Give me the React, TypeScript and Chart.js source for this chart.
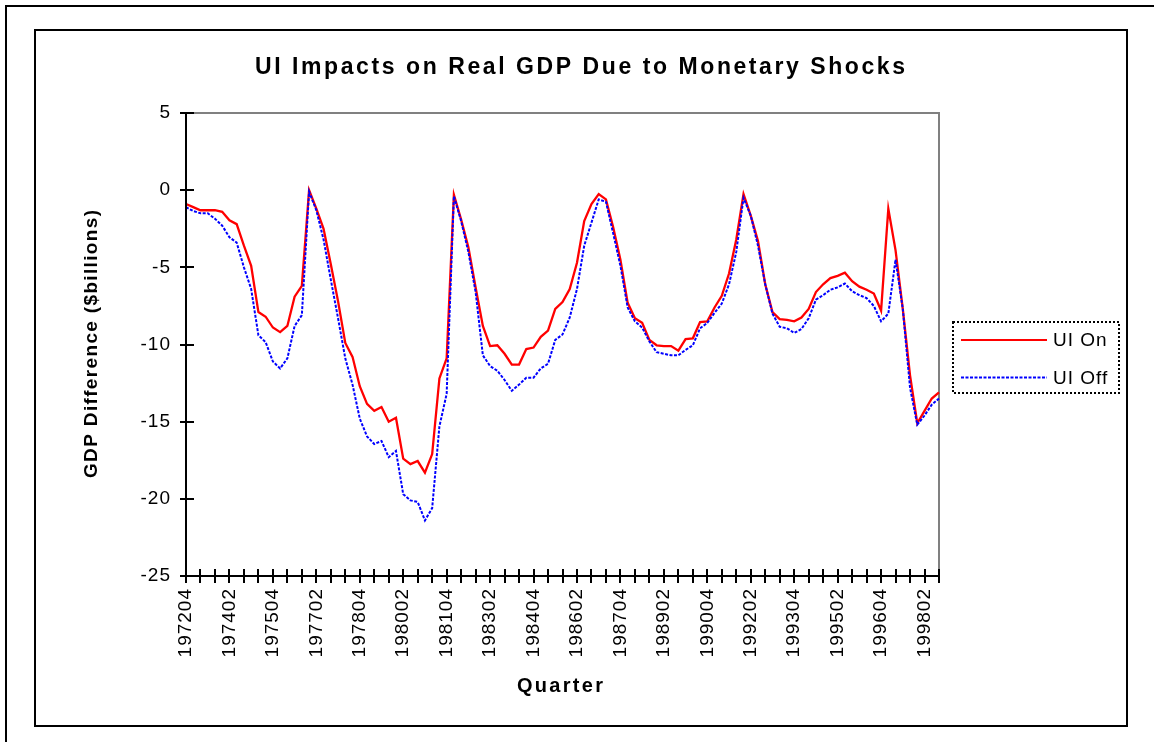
import React, { useEffect, useRef } from "react";
import { Chart, registerables } from "chart.js";

Chart.register(...registerables);

const W = 1154;
const H = 742;
const FONT = '"Liberation Sans", Arial, Helvetica, sans-serif';

const TITLE = "UI Impacts on Real GDP Due to Monetary Shocks";
const X_TITLE = "Quarter";
const Y_TITLE = "GDP Difference ($billions)";

// category range: 1972 Q4 .. 1998 Q4
const FIRST_YEAR = 1972;
const FIRST_QUARTER = 4;
const LAST_YEAR = 1998;
const LAST_QUARTER = 4;
const LABEL_EVERY = 6;
const TICK_EVERY = 2;

function buildQuarters(): string[] {
  const out: string[] = [];
  let y = FIRST_YEAR;
  let q = FIRST_QUARTER;
  while (y < LAST_YEAR || (y === LAST_YEAR && q <= LAST_QUARTER)) {
    out.push(`${y}0${q}`);
    q++;
    if (q > 4) {
      q = 1;
      y++;
    }
  }
  return out;
}
const quarters = buildQuarters();

const seriesNames = ["UI On", "UI Off"];

const uiOn = [
  -0.9, -1.1, -1.3, -1.3, -1.3, -1.4, -1.95, -2.2, -3.6, -4.9,
  -7.9, -8.2, -8.9, -9.2, -8.8, -6.9, -6.2, 0.0, -1.2, -2.5,
  -4.8, -7.2, -9.9, -10.8, -12.7, -13.85, -14.3, -14.05, -15.0, -14.75,
  -17.4, -17.75, -17.55, -18.3, -17.1, -12.2, -10.9, -0.3, -1.9, -3.7,
  -6.3, -8.8, -10.1, -10.05, -10.6, -11.3, -11.3, -10.3, -10.2, -9.5,
  -9.1, -7.7, -7.25, -6.4, -4.7, -2.0, -0.9, -0.25, -0.6, -2.4,
  -4.5, -7.3, -8.3, -8.6, -9.7, -10.05, -10.1, -10.1, -10.4, -9.65,
  -9.6, -8.55, -8.5, -7.6, -6.85, -5.4, -3.2, -0.25, -1.65, -3.3,
  -6.1, -7.9, -8.35, -8.4, -8.5, -8.25, -7.7, -6.6, -6.1, -5.7,
  -5.55, -5.35, -5.9, -6.25, -6.45, -6.7, -7.8, -1.2, -3.9, -7.7,
  -12.0, -15.1, -14.3, -13.5, -13.1,
];

const uiOff = [
  -1.1, -1.35, -1.5, -1.5, -1.85, -2.3, -3.05, -3.4, -5.0, -6.4,
  -9.4, -9.85, -11.1, -11.55, -10.9, -8.8, -8.1, -0.1, -1.3, -3.2,
  -5.8, -8.3, -10.9, -12.6, -14.8, -15.95, -16.45, -16.25, -17.3, -16.9,
  -19.7, -20.1, -20.2, -21.4, -20.6, -15.3, -13.2, -0.4, -2.0, -4.0,
  -6.6, -10.7, -11.4, -11.7, -12.3, -13.0, -12.6, -12.15, -12.15, -11.55,
  -11.25, -9.7, -9.35, -8.25, -6.4, -3.6, -2.1, -0.6, -0.75, -2.8,
  -4.9, -7.6, -8.5, -8.9, -9.8, -10.5, -10.6, -10.7, -10.7, -10.35,
  -10.05, -8.95, -8.6, -7.95, -7.35, -6.1, -4.0, -0.5, -1.65, -3.6,
  -6.1, -8.0, -8.85, -8.95, -9.25, -9.0, -8.3, -7.1, -6.8, -6.45,
  -6.3, -6.05, -6.55, -6.8, -7.0, -7.5, -8.5, -8.0, -4.5, -7.7,
  -12.8, -15.2, -14.6, -13.9, -13.5,
];

const Y_MIN = -25;
const Y_MAX = 5;
const Y_STEP = 5;

const RED = "#FF0000";
const BLUE = "#0000FF";

function spacedText(
  ctx: CanvasRenderingContext2D,
  text: string,
  cx: number,
  cy: number,
  font: string,
  target: number
) {
  ctx.font = font;
  (ctx as any).letterSpacing = "0px";
  const w = ctx.measureText(text).width;
  const sp = Math.max(0, (target - w) / (text.length - 1));
  (ctx as any).letterSpacing = sp + "px";
  ctx.textAlign = "left";
  ctx.textBaseline = "middle";
  ctx.fillText(text, cx - target / 2, cy);
}

const decorPlugin = {
  id: "decor",
  beforeDraw(chart: any) {
    const ctx: CanvasRenderingContext2D = chart.ctx;
    ctx.save();
    ctx.fillStyle = "#ffffff";
    ctx.fillRect(0, 0, W, H);
    ctx.strokeStyle = "#000";
    ctx.lineWidth = 2;
    ctx.beginPath();
    ctx.moveTo(6, H + 2);
    ctx.lineTo(6, 6);
    ctx.lineTo(W + 2, 6);
    ctx.stroke();
    ctx.strokeRect(35, 30, 1092, 696);
    ctx.restore();
    (ctx as any).letterSpacing = "1px";
  },
  beforeDatasetsDraw(chart: any) {
    const ctx: CanvasRenderingContext2D = chart.ctx;
    const a = chart.chartArea;
    ctx.save();
    ctx.strokeStyle = "#808080";
    ctx.lineWidth = 2;
    ctx.beginPath();
    ctx.moveTo(a.left, a.top);
    ctx.lineTo(a.right, a.top);
    ctx.lineTo(a.right, a.bottom);
    ctx.stroke();
    ctx.restore();
  },
  afterDraw(chart: any) {
    const ctx: CanvasRenderingContext2D = chart.ctx;
    const a = chart.chartArea;
    const xs = chart.scales.x;
    const ys = chart.scales.y;
    ctx.save();
    ctx.strokeStyle = "#000";
    ctx.lineWidth = 2;
    ctx.beginPath();
    ctx.moveTo(a.left, a.top);
    ctx.lineTo(a.left, a.bottom);
    ctx.lineTo(a.right, a.bottom);
    // y ticks crossing the axis
    ys.ticks.forEach((t: any) => {
      const y = Math.round(ys.getPixelForValue(t.value));
      ctx.moveTo(a.left - 6, y);
      ctx.lineTo(a.left + 8, y);
    });
    // x ticks crossing the axis
    for (let i = 0; i < quarters.length; i += TICK_EVERY) {
      const x = Math.round(xs.getPixelForValue(i));
      ctx.moveTo(x, a.bottom - 7);
      ctx.lineTo(x, a.bottom + 7);
    }
    ctx.stroke();

    ctx.fillStyle = "#000";
    // chart title
    spacedText(ctx, TITLE, 580, 68, `bold 23px ${FONT}`, 650);
    // x title
    spacedText(ctx, X_TITLE, 560, 686, `bold 20px ${FONT}`, 86);
    // y title
    ctx.save();
    ctx.translate(92, 344);
    ctx.rotate(-Math.PI / 2);
    spacedText(ctx, Y_TITLE, 0, 0, `bold 19px ${FONT}`, 268);
    ctx.restore();

    // legend
    ctx.save();
    ctx.lineWidth = 2;
    ctx.setLineDash([2, 2]);
    ctx.strokeStyle = "#000";
    ctx.strokeRect(953, 322, 166, 71);
    ctx.restore();
    const rows = [340, 377.5];
    chart.data.datasets.forEach((ds: any, k: number) => {
      const y = rows[k];
      ctx.save();
      ctx.strokeStyle = ds.borderColor;
      ctx.lineWidth = 2;
      ctx.setLineDash(ds.borderDash || []);
      ctx.beginPath();
      ctx.moveTo(961, y);
      ctx.lineTo(1047, y);
      ctx.stroke();
      ctx.restore();
      ctx.font = `19px ${FONT}`;
      (ctx as any).letterSpacing = "1px";
      ctx.textAlign = "left";
      ctx.textBaseline = "middle";
      ctx.fillStyle = "#000";
      ctx.fillText(ds.label, 1053, y + 1);
    });
    ctx.restore();
  },
};

export default function App() {
  const ref = useRef<HTMLCanvasElement | null>(null);

  useEffect(() => {
    if (!ref.current) return;
    const chart = new Chart(ref.current, {
      type: "line",
      data: {
        labels: quarters,
        datasets: [
          {
            label: seriesNames[0],
            data: uiOn,
            borderColor: RED,
            borderWidth: 2.3,
            pointRadius: 0,
            fill: false,
            tension: 0,
            order: 1,
          },
          {
            label: seriesNames[1],
            data: uiOff,
            borderColor: BLUE,
            borderWidth: 2,
            borderDash: [3, 1.5],
            pointRadius: 0,
            fill: false,
            tension: 0,
            order: 0,
          },
        ],
      },
      options: {
        responsive: false,
        animation: false,
        devicePixelRatio: 1,
        layout: { padding: { left: 0, top: 113, right: 215, bottom: 0 } },
        plugins: {
          legend: { display: false },
          title: { display: false },
          tooltip: { enabled: false },
        },
        scales: {
          x: {
            type: "category",
            offset: false,
            grid: { display: false },
            border: { display: false },
            ticks: {
              autoSkip: false,
              minRotation: 90,
              maxRotation: 90,
              padding: 4,
              color: "#000",
              font: { family: FONT, size: 19 },
              callback: (_v: any, i: number) =>
                i % LABEL_EVERY === 0 ? quarters[i] : "",
            },
            afterFit: (s: any) => {
              s.height = 166;
            },
          },
          y: {
            min: Y_MIN,
            max: Y_MAX,
            grid: { display: false },
            border: { display: false },
            ticks: {
              stepSize: Y_STEP,
              padding: 7,
              color: "#000",
              font: { family: FONT, size: 19 },
            },
            afterFit: (s: any) => {
              s.width = 186;
            },
          },
        },
      },
      plugins: [decorPlugin],
    });
    return () => chart.destroy();
  }, []);

  return (
    <div style={{ position: "fixed", left: 0, top: 0, width: W, height: H, background: "#fff" }}>
      <canvas ref={ref} width={W} height={H} style={{ display: "block" }} />
    </div>
  );
}
